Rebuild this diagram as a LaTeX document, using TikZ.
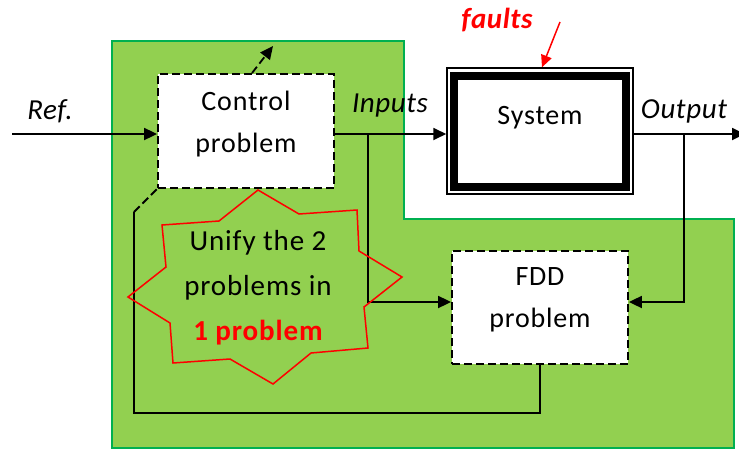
\documentclass[tikz,border=0pt]{standalone}
\usepackage{fontspec}
\setmainfont{Carlito}
\usetikzlibrary{arrows.meta}
\definecolor{zone}{HTML}{92D050}
\definecolor{zoneedge}{HTML}{00B050}
\definecolor{alarm}{HTML}{FF0000}
\begin{document}
\begin{tikzpicture}[x=1pt,y=-1pt,
  conn/.style={line width=1.8pt},
  dashline/.style={dash pattern=on 8pt off 4pt},
  tip/.style={-{Triangle[length=13pt,width=12pt]}},
  dashbox/.style={draw, dashline, line width=1.8pt, fill=white,
    minimum width=176pt, minimum height=114pt, inner sep=0pt},
  txt/.style={font=\fontsize{28}{42}\selectfont\addfontfeatures{LetterSpace=3}, align=center, inner sep=0pt},
  lbl/.style={font=\fontsize{29}{30}\selectfont\itshape\addfontfeatures{LetterSpace=2}, inner sep=0pt}]
\useasboundingbox (0,0) rectangle (739,450);

% shaded region grouping the two problems
\fill[zone, draw=zoneedge, line width=2pt] (112,41) -- (404,41) -- (404,219) -- (734,219)
  -- (734,448) -- (112,448) -- cycle;

% blocks
\node[dashbox] (ctrl) at (246,131) {};
\node[dashbox, minimum height=113pt] (fdd) at (540,307.5) {};
\node[draw, line width=1.5pt, fill=white, minimum width=186pt, minimum height=126pt, inner sep=0pt] (sys) at (540,131) {};
\node[draw, line width=8pt, minimum width=172pt, minimum height=111pt, inner sep=0pt] (sysin) at (540,131.5) {};

\node[txt] (ctrltxt) at (246,124) {Control\\problem};
\node[txt] (fddtxt) at (540,300) {FDD\\problem};
\node[txt] (systxt) at (540,118) {System};

% labels
\node[lbl] (reflbl) at (50,111) {Ref.};
\node[lbl] (inlbl) at (390,106) {Inputs};
\node[lbl] (outlbl) at (684,111) {Output};
\node[lbl, text=alarm, font=\fontsize{29}{30}\selectfont\bfseries\itshape\addfontfeatures{LetterSpace=2}] (faultlbl) at (497,20) {faults};

% signal connectors
\coordinate (refin) at (12,134);
\coordinate (tapin) at (368,134);
\coordinate (tapout) at (684,134);
\coordinate (outend) at (745,134);
\coordinate (fbcorner) at (134,413);
\coordinate (fbtop) at (134,212);
\coordinate (upout) at (273,46);
\coordinate (fstart) at (560,22);

\draw[conn,tip] (refin) -- (refin -| ctrl.west);
\draw[conn,tip] (ctrl.east |- refin) -- (sys.west |- refin);
\draw[conn,tip] (tapin) |- ([yshift=5.5pt]fdd.west);
\draw[conn,tip] (sys.east |- refin) -- (outend);
\draw[conn,tip] (tapout) |- ([yshift=5.5pt]fdd.east);
\draw[conn] (fdd.south) |- (fbcorner) -- (fbtop);
\draw[conn, dashline] (fbtop) -- (ctrl.south west);
\draw[conn, dashline, tip] ([xshift=6pt]ctrl.north) -- (upout);
\draw[alarm, line width=1.5pt, -{Triangle[length=12pt,width=11pt]}] (fstart) -- ([xshift=2pt]sys.north);

% burst around the merged problem
\draw[alarm, line width=1.5pt] (258,190) -- (299,214) -- (357,210) -- (359,251) -- (402,277)
  -- (364,307) -- (368,348) -- (311,353) -- (273,384) -- (230,359) -- (173,363)
  -- (170,323) -- (128,297) -- (166,267) -- (162,225) -- (219,221) -- cycle;
\node[txt, font=\fontsize{29}{45}\selectfont\addfontfeatures{LetterSpace=3}] (unify) at (258,288)
  {Unify the 2\\problems in\\{\color{alarm}\bfseries 1 problem}};
\end{tikzpicture}
\end{document}
